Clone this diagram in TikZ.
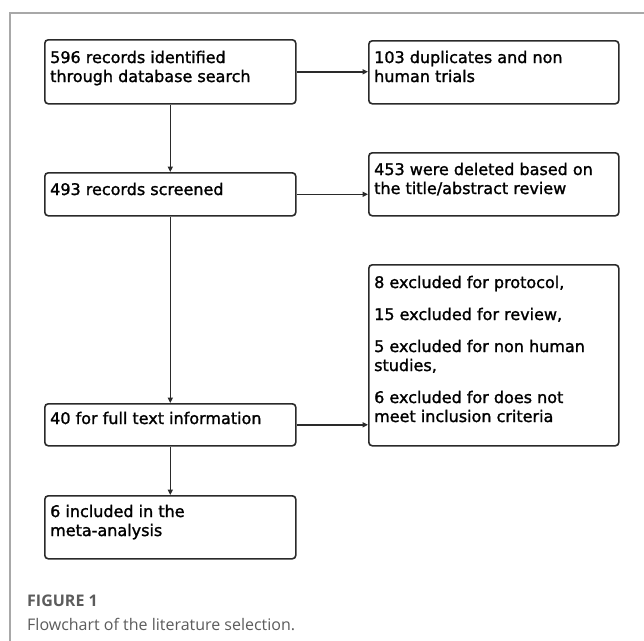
\documentclass[tikz,border=0pt]{standalone}
\usepackage{fontspec}
\setmainfont{DejaVu Sans}[FakeBold=1.4]
\newfontfamily\capfont{Open Sans}
\usetikzlibrary{arrows.meta}
\definecolor{framegray}{HTML}{A8A8A8}
\definecolor{ink}{HTML}{2A2A2A}
\definecolor{capgray}{HTML}{5C5C5C}
\newcommand{\boxlines}[1]{\begin{tabular}[t]{@{}l@{}}#1\end{tabular}}
\begin{document}
\begin{tikzpicture}[x=1pt,y=-1pt,
  box/.style={draw=ink, line width=1.6pt, rounded corners=3.5pt, inner sep=0pt, anchor=north west},
  txt/.style={anchor=base west, inner sep=0pt, text=black, font=\fontsize{16}{19}\selectfont},
  arr/.style={draw=ink, line width=1.4pt, -{Triangle[length=5.5pt,width=5pt]}},
  captext/.style={anchor=base west, inner sep=0pt, text=capgray}]
\useasboundingbox (0,0) rectangle (644,640);
\fill[white] (0,0) rectangle (644,640);
\draw[framegray, line width=1.6pt] (10,641) -- (10,13) -- (645,13);

% boxes
\node[box, minimum width=251pt, minimum height=64pt] (b1) at (44,39) {};
\node[box, minimum width=250pt, minimum height=63pt] (b2) at (368,40) {};
\node[box, minimum width=251pt, minimum height=43pt] (b3) at (44,172) {};
\node[box, minimum width=250pt, minimum height=63pt] (b4) at (368,152) {};
\node[box, minimum width=250pt, minimum height=181pt] (b5) at (368,264) {};
\node[box, minimum width=251pt, minimum height=42pt] (b6) at (44,403) {};
\node[box, minimum width=251pt, minimum height=63pt] (b7) at (44,495) {};

% texts
\node[txt] (t1) at (50,63) {\boxlines{596 records identified\\ through database search}};
\node[txt] (t2) at (374,63) {\boxlines{103 duplicates and non\\ human trials}};
\node[txt] (t3) at (50,195) {493 records screened};
\node[txt] (t4) at (374,175) {\boxlines{453 were deleted based on\\ the title/abstract review}};
\node[txt] (t5) at (374,288) {\boxlines{8 excluded for protocol,\\[13pt] 15 excluded for review,\\[13pt] 5 excluded for non human\\ studies,\\[13pt] 6 excluded for does not\\ meet inclusion criteria}};
\node[txt] (t6) at (50,424) {40 for full text information};
\node[txt] (t7) at (50,517) {\boxlines{6 included in the\\ meta-analysis}};

% connectors
\draw[arr] (b1.south) -- (b3.north);
\draw[arr] (b1.east) -- (b2.west |- b1.east);
\draw[arr] (b3.east) -- (b4.west |- b3.east);
\draw[arr] (b3.south) -- (b6.north);
\draw[arr] (b6.east) -- (b5.west |- b6.east);
\draw[arr] (b6.south) -- (b7.north);

% caption
\node[captext, font=\capfont\bfseries\fontsize{16}{18}\selectfont] (c1) at (27,606) {FIGURE 1};
\node[captext, font=\capfont\fontsize{16}{20}\selectfont] (c2) at (27,630) {Flowchart of the literature selection.};
\end{tikzpicture}
\end{document}
